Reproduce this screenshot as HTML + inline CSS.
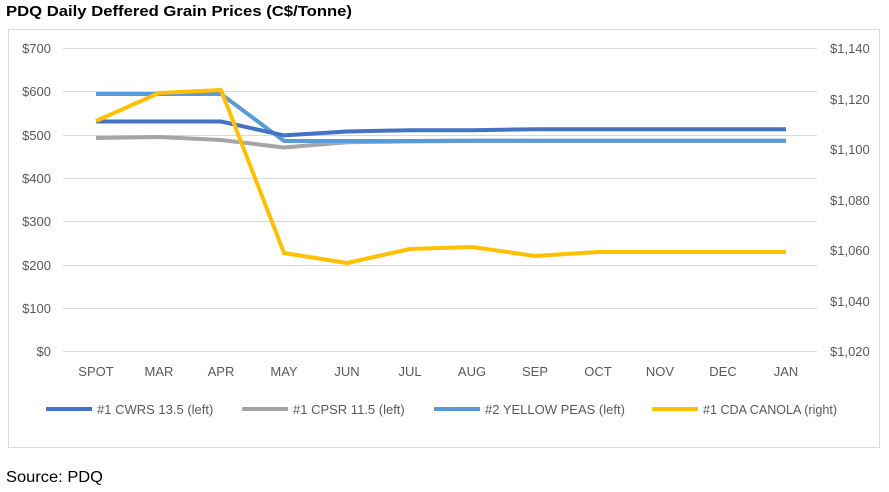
<!DOCTYPE html><html><head><style>body{margin:0;background:#fff;font-family:"Liberation Sans",Calibri,sans-serif}</style></head><body>
<svg width="889" height="487" xmlns="http://www.w3.org/2000/svg" font-family="Liberation Sans, sans-serif">
<text x="6" y="16" font-size="15" font-weight="bold" fill="#000" textLength="346" lengthAdjust="spacingAndGlyphs">PDQ Daily Deffered Grain Prices (C$/Tonne)</text>
<rect x="8.5" y="29.5" width="871" height="418" fill="#fff" stroke="#d9d9d9"/>
<g stroke="#d9d9d9" stroke-width="1">
<line x1="63" x2="817" y1="48.5" y2="48.5"/><line x1="63" x2="817" y1="91.5" y2="91.5"/><line x1="63" x2="817" y1="135.5" y2="135.5"/><line x1="63" x2="817" y1="178.5" y2="178.5"/><line x1="63" x2="817" y1="221.5" y2="221.5"/><line x1="63" x2="817" y1="265.5" y2="265.5"/><line x1="63" x2="817" y1="308.5" y2="308.5"/><line x1="63" x2="817" y1="351.5" y2="351.5"/>
</g>
<g font-size="13" fill="#595959" text-anchor="end">
<text x="51" y="53">$700</text><text x="51" y="96">$600</text><text x="51" y="140">$500</text><text x="51" y="183">$400</text><text x="51" y="226">$300</text><text x="51" y="270">$200</text><text x="51" y="313">$100</text><text x="51" y="356">$0</text>
</g>
<g font-size="13" fill="#595959">
<text x="830" y="53">$1,140</text><text x="830" y="104">$1,120</text><text x="830" y="154">$1,100</text><text x="830" y="205">$1,080</text><text x="830" y="255">$1,060</text><text x="830" y="306">$1,040</text><text x="830" y="356">$1,020</text>
</g>
<g font-size="13" fill="#595959" text-anchor="middle">
<text x="96" y="376">SPOT</text><text x="159" y="376">MAR</text><text x="221" y="376">APR</text><text x="284" y="376">MAY</text><text x="347" y="376">JUN</text><text x="410" y="376">JUL</text><text x="472" y="376">AUG</text><text x="535" y="376">SEP</text><text x="598" y="376">OCT</text><text x="660" y="376">NOV</text><text x="723" y="376">DEC</text><text x="786" y="376">JAN</text>
</g>
<g fill="none" stroke-width="4" stroke-linejoin="round">
<polyline stroke="#a5a5a5" points="96,138 159,137 221,140 284,147.5 347,142.3 410,141.4 472,141 535,141 598,141 660,141 723,141 786,141"/>
<polyline stroke="#5b9bd5" points="96,94 159,94 221,94 284,141 347,141 410,141 472,140.6 535,140.6 598,140.6 660,140.6 723,140.6 786,140.6"/>
<polyline stroke="#4472c4" points="96,121.5 159,121.5 221,121.5 284,135.4 347,131.5 410,130.2 472,130.2 535,129.3 598,129.3 660,129.3 723,129.3 786,129.3"/>
<polyline stroke="#ffc000" points="96,121 159,93 221,90 284,253 347,263 410,249 472,247 535,256 598,252 660,252 723,252 786,252"/>
</g>
<g font-size="13" fill="#595959">
<line x1="46" x2="92" y1="409" y2="409" stroke="#4472c4" stroke-width="4"/><text x="97" y="414">#1 CWRS 13.5 (left)</text>
<line x1="242" x2="288" y1="409" y2="409" stroke="#a5a5a5" stroke-width="4"/><text x="293" y="414">#1 CPSR 11.5 (left)</text>
<line x1="434" x2="480" y1="409" y2="409" stroke="#5b9bd5" stroke-width="4"/><text x="485" y="414">#2 YELLOW PEAS (left)</text>
<line x1="652" x2="698" y1="409" y2="409" stroke="#ffc000" stroke-width="4"/><text x="703" y="414" textLength="134" lengthAdjust="spacingAndGlyphs">#1 CDA CANOLA (right)</text>
</g>
<text x="6" y="482" font-size="16" fill="#000" textLength="97" lengthAdjust="spacingAndGlyphs">Source: PDQ</text>
</svg>
</body></html>
